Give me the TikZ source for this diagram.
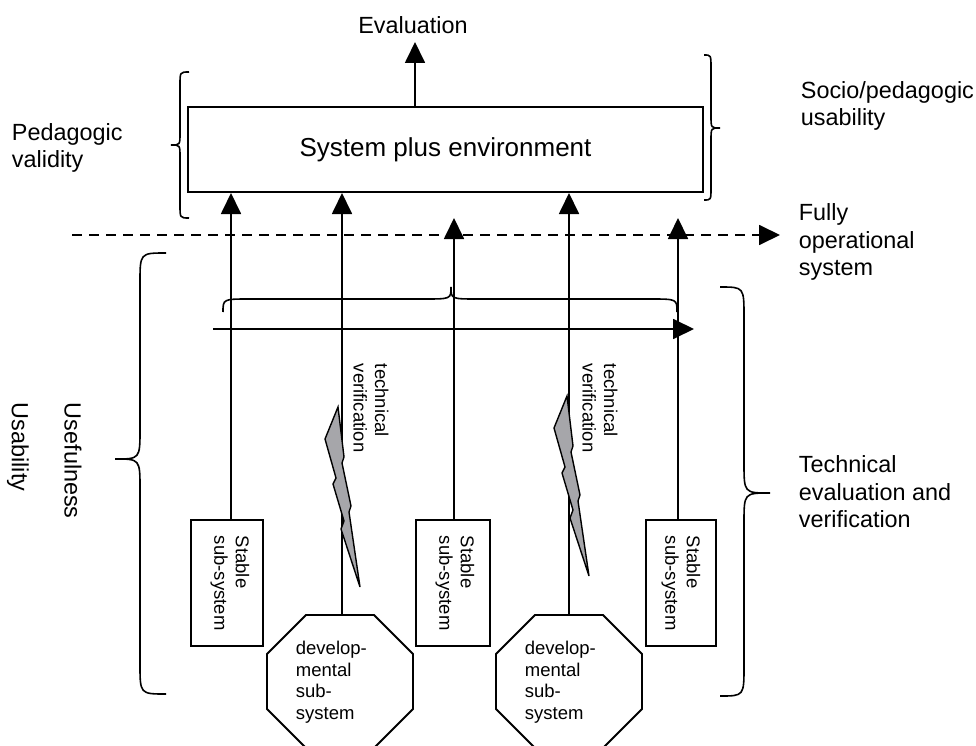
\documentclass[tikz,border=0pt]{standalone}
\usepackage{fontspec}
\setmainfont{Liberation Sans}
\usetikzlibrary{arrows.meta}
\definecolor{boltgray}{RGB}{166,166,170}
\tikzset{
  arr/.style={-{Triangle[length=21pt,width=20pt]}},
  lbl/.style={font=\fontsize{23.4pt}{27.5pt}\selectfont, align=left, inner sep=0pt},
  bigtxt/.style={font=\fontsize{26pt}{30pt}\selectfont, align=center},
  smalltxt/.style={font=\fontsize{18.5pt}{21.5pt}\selectfont, align=left, inner sep=0pt},
  sbox/.style={draw, minimum width=72pt, minimum height=126pt, inner sep=0pt},
  vlbl/.style={smalltxt, rotate=-90, anchor=west},
  vbig/.style={lbl, rotate=-90, anchor=west},
  bracestyle/.style={line width=1.6pt},
  octo/.style={line width=1.8pt, line join=miter},
  boltshape/.pic={
    \filldraw[fill=boltgray, line width=1.4pt, line join=miter]
      (0,0) -- (6,50) -- (4,56) -- (13,99) -- (11,105) -- (22,180)
      -- (3,122) -- (6,114) -- (-5,77) -- (-2,71) -- (-13,32) -- cycle;
  }
}
\begin{document}
\begin{tikzpicture}[x=1pt, y=-1pt, line width=1.8pt]
\useasboundingbox (0,0) rectangle (976,746);

% main box
\node[draw, line width=2pt, minimum width=515pt, minimum height=85pt, inner sep=0pt, bigtxt] (sys) at (445.5,149.5) {System plus environment};

% texts
\node[lbl] (eval) at (413,25) {Evaluation};
\coordinate (evtip) at (415,42);
\node[lbl, anchor=west] (ped) at (11,148) {Pedagogic\\validity};
\node[lbl, anchor=west] (socio) at (800,106) {Socio/pedagogic\\usability};
\node[lbl, anchor=west] (fully) at (798,242) {Fully\\operational\\system};
\node[lbl, anchor=west] (techev) at (798,492) {Technical\\evaluation and\\verification};
\node[vbig] (usef) at (73,402) {Usefulness};
\node[vbig] (usab) at (18,402) {Usability};

% stable boxes
\node[sbox] (s1) at (227,583) {};
\node[sbox, minimum width=74pt] (s2) at (453,583) {};
\node[sbox, minimum width=70pt] (s3) at (681,583) {};
\node[vlbl] (s1t) at (230,535) {Stable\\sub-system};
\node[vlbl] (s2t) at (455,535) {Stable\\sub-system};
\node[vlbl] (s3t) at (681,535) {Stable\\sub-system};

% octagons
\draw[octo] (306,615) -- (374,615) -- (413,654) -- (413,709) -- (374,748) -- (306,748) -- (267,709) -- (267,654) -- cycle;
\draw[octo] (535,615) -- (603,615) -- (642,654) -- (642,709) -- (603,748) -- (535,748) -- (496,709) -- (496,654) -- cycle;
\coordinate (o1t) at (342,615);
\coordinate (o2t) at (569,615);
\node[smalltxt, anchor=west] (o1) at (295,682) {develop-\\mental\\sub-\\system};
\node[smalltxt, anchor=west] (o2) at (524,682) {develop-\\mental\\sub-\\system};

% technical verification labels
\node[vlbl] (tv1) at (371,363) {technical\\verification};
\node[vlbl] (tv2) at (600,363) {technical\\verification};

% dashed line
\coordinate (d1) at (72,235);
\coordinate (d2) at (780,235);
\draw[arr, dash pattern=on 10pt off 7pt] (d1) -- (d2);

% evaluation arrow
\draw[arr] ([xshift=-30.5pt]sys.north) -- (evtip);

% vertical arrows
\coordinate (t3) at (454,218);
\coordinate (t5) at (678,218);
\draw[arr] ([xshift=4pt]s1.north) -- ([xshift=4pt]s1.north |- sys.south);
\draw[arr] (o1t) -- (o1t |- sys.south);
\draw[arr] ([xshift=1pt]s2.north) -- (t3);
\draw[arr] (o2t) -- (o2t |- sys.south);
\draw[arr] ([xshift=-3pt]s3.north) -- (t5);

% horizontal arrow
\coordinate (h1) at (213,329);
\coordinate (h2) at (694,329);
\draw[arr] (h1) -- (h2);

% braces
\draw[bracestyle] (189,72) .. controls (180,72) .. (180,85) -- (180,133) .. controls (180,145) .. (171,145) .. controls (180,145) .. (180,157) -- (180,205) .. controls (180,218) .. (189,218);
\draw[bracestyle] (704,55) .. controls (711,55) .. (711,68) -- (711,116) .. controls (711,128) .. (720,128) .. controls (711,128) .. (711,140) -- (711,188) .. controls (711,200) .. (704,200);
\draw[bracestyle] (166,253) .. controls (140,253) .. (140,283) -- (140,429) .. controls (140,459) .. (115,459) .. controls (140,459) .. (140,489) -- (140,664) .. controls (140,694) .. (166,694);
\draw[bracestyle] (720,287) .. controls (744,287) .. (744,317) -- (744,463) .. controls (744,493) .. (770,493) .. controls (744,493) .. (744,523) -- (744,666) .. controls (744,696) .. (720,696);
\draw[bracestyle] (223,312) .. controls (223,299) .. (250,299) -- (424,299) .. controls (451,299) .. (451,287) .. controls (451,299) .. (478,299) -- (650,299) .. controls (677,299) .. (677,312);

% lightning bolts
\path (338,407) pic {boltshape};
\path (567,396) pic {boltshape};
\end{tikzpicture}
\end{document}
